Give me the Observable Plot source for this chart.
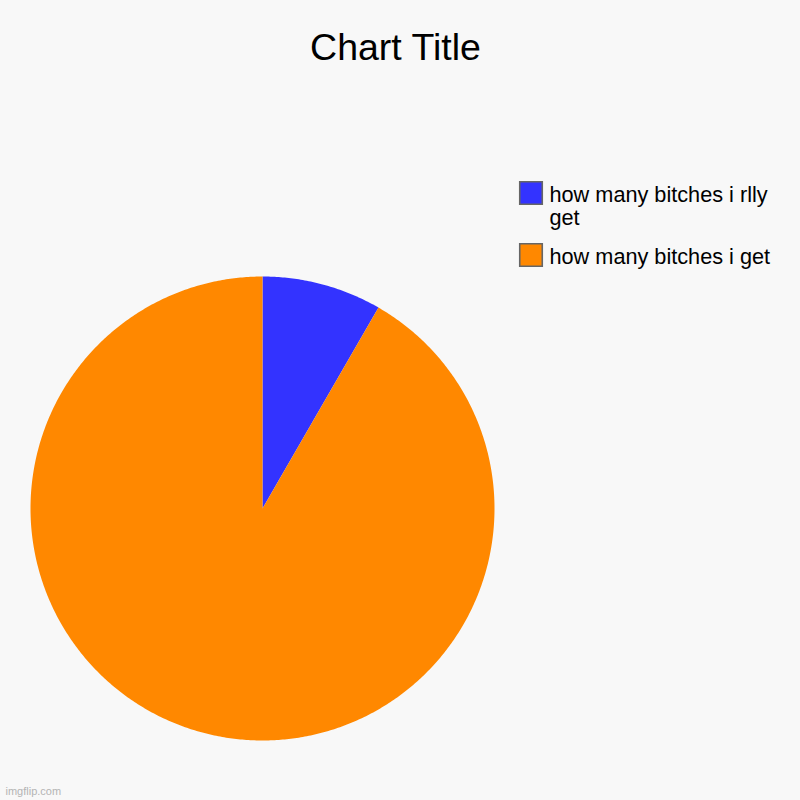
<!DOCTYPE html>
<html><head><meta charset="utf-8">
<script src="https://cdn.jsdelivr.net/npm/d3@7"></script>
<script src="https://cdn.jsdelivr.net/npm/@observablehq/plot@0.6"></script>
<style>body{margin:0;background:#f8f8f8}</style>
</head><body><div id="chart"></div>
<script>
const categories = ["how many bitches i rlly get", "how many bitches i get"];
const values = [1, 11];
const colors = ["#3333ff", "#ff8800"];
const title = "Chart Title";
const watermark = "imgflip.com";

const FONT = "'Liberation Sans', Arial, sans-serif";
const ctx = document.createElement("canvas").getContext("2d");
function wrap(text, px, maxWidth) {
  ctx.font = `${px}px ${FONT}`;
  const words = text.split(" ");
  const lines = [];
  let line = "";
  for (const w of words) {
    const cand = line ? line + " " + w : w;
    if (line && ctx.measureText(cand).width > maxWidth) { lines.push(line); line = w; }
    else line = cand;
  }
  if (line) lines.push(line);
  return lines.join("\n");
}

const arcs = d3.pie().sort(null).value(d => d.value)(categories.map((name, i) => ({name, value: values[i]})));
const pts = [];
for (const a of arcs) {
  const n = Math.max(2, Math.ceil((a.endAngle - a.startAngle) / (Math.PI / 360)));
  pts.push({name: a.data.name, x: 0, y: 0});
  for (let k = 0; k <= n; k++) {
    const t = a.startAngle + (a.endAngle - a.startAngle) * k / n;
    pts.push({name: a.data.name, x: Math.sin(t), y: Math.cos(t)});
  }
}
const cx = 262, cy = 508, R = 232, W = 800, H = 800;
const plot = Plot.plot({
  width: W, height: H, margin: 0,
  style: {background: "#f8f8f8", fontFamily: FONT},
  x: {domain: [-cx / R, (W - cx) / R], range: [0, W], axis: null},
  y: {domain: [-(H - cy) / R, cy / R], range: [H, 0], axis: null},
  color: {domain: categories, range: colors},
  marks: [
    Plot.line(pts, {x: "x", y: "y", z: "name", fill: "name", stroke: null, curve: "linear-closed"}),
    Plot.text([title], {frameAnchor: "top", dx: -5, dy: 47, fontSize: 37.5, fill: "#000", lineAnchor: "middle"}),
    ...categories.map((c, i) => Plot.dot([c], {frameAnchor: "top-left", dx: 530.5, dy: 192.5 + 62 * i, symbol: "square", r: 12.7, fill: d => d, stroke: "#666", strokeWidth: 1.6})),
    ...categories.map((c, i) => Plot.text([c], {frameAnchor: "top-left", dx: 549, dy: 184.5 + 62 * i, text: d => wrap(d, 21.7, 240), textAnchor: "start", lineAnchor: "top", lineHeight: 1.07, fontSize: 21.7, fill: "#000"})),
    Plot.text([watermark], {frameAnchor: "bottom-left", dx: 5, dy: -6, textAnchor: "start", lineAnchor: "bottom", fontSize: 11, fill: "#b4b4b4"})
  ]
});
document.getElementById("chart").append(plot);
</script>
</body></html>
